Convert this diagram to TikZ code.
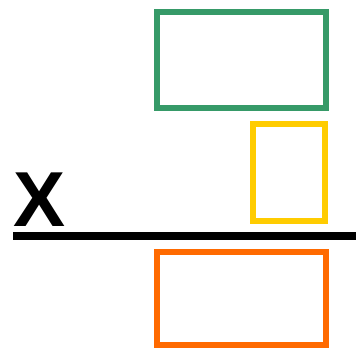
\documentclass[tikz,border=0pt]{standalone}
\usepackage{fontspec}
\setmainfont{Liberation Sans}
\usetikzlibrary{positioning}
\definecolor{boxgreen}{HTML}{369A68}
\definecolor{boxyellow}{HTML}{FFCC00}
\definecolor{boxorange}{HTML}{FF6A00}
\tikzset{frame/.style={draw,line width=6pt,inner sep=0pt,outer sep=0pt,fill=white},
  axisline/.style={line width=8pt}}

\begin{document}
\begin{tikzpicture}[x=1pt,y=-1pt]
\useasboundingbox (0,0) rectangle (356,348);
\node[frame,draw=boxgreen,minimum width=169pt,minimum height=96pt] (upper) at (241.5,60) {};
\node[frame,draw=boxyellow,minimum width=72pt,minimum height=97pt] (middle) at (289,172.5) {};
\node[frame,draw=boxorange,minimum width=169pt,minimum height=93pt] (lower) at (241.5,298.5) {};
\node[anchor=base west,inner sep=0pt,font=\fontsize{78}{80}\selectfont\bfseries] (xlab) at (13,226) {X};
\coordinate (lstart) at (13,236);
\coordinate (lend) at (356,236);
\draw[axisline] (lstart) -- (lend);
\end{tikzpicture}
\end{document}
